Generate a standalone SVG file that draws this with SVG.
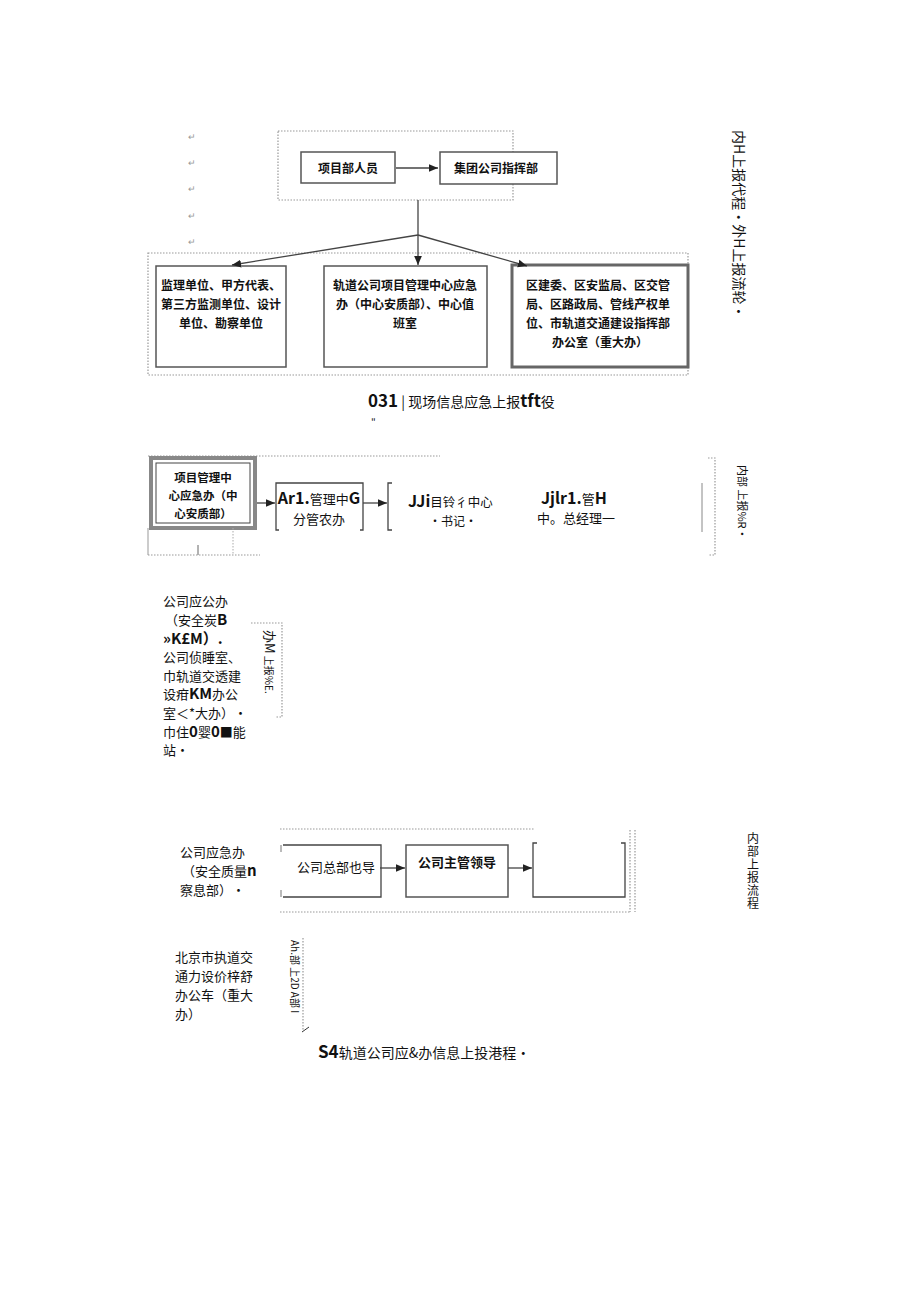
<svg xmlns="http://www.w3.org/2000/svg" width="920" height="1301" viewBox="0 0 920 1301">
<style>
text{font-family:"Noto Sans CJK SC","Liberation Sans",sans-serif;fill:#111}
.s{font-size:12px}
.m{font-size:11.5px}
.b{font-weight:bold}
.box{fill:#fff;stroke:#555;stroke-width:1.5}
.dot{fill:none;stroke:#999;stroke-width:1.2;stroke-dasharray:1.5 1.5}
.ln{fill:none;stroke:#444;stroke-width:1.3}
.ret{font-size:9px;fill:#999}
</style>
<defs><marker id="a" markerWidth="8" markerHeight="8" refX="7" refY="4" orient="auto"><path d="M0,1 L7,4 L0,7z" fill="#222"/></marker></defs>
<rect width="920" height="1301" fill="#fff"/>
<g id="marks"><text class="ret" x="188" y="140">↵</text><text class="ret" x="188" y="166">↵</text><text class="ret" x="188" y="192">↵</text><text class="ret" x="188" y="219">↵</text><text class="ret" x="188" y="245">↵</text></g>
<g id="top-frame"><rect class="dot" x="278" y="131" width="235" height="69"/><rect class="dot" x="148" y="253" width="540" height="122"/></g>
<g id="n1"><rect class="box" x="301" y="152" width="94" height="31"/><text class="s b" x="348" y="173" text-anchor="middle">项目部人员</text></g>
<g id="n2"><rect class="box" x="440" y="152" width="117" height="32"/><text class="s b" x="496" y="173" text-anchor="middle">集团公司指挥部</text></g>
<g id="n3"><rect class="box" x="156" y="266" width="130" height="101"/><text class="s b" x="221" y="290" text-anchor="middle">监理单位、甲方代表、</text><text class="s b" x="221" y="309" text-anchor="middle">第三方监测单位、设计</text><text class="s b" x="221" y="328" text-anchor="middle">单位、勘察单位</text></g>
<g id="n4"><rect class="box" x="324" y="266" width="163" height="101"/><text class="s b" x="405" y="290" text-anchor="middle">轨道公司项目管理中心应急</text><text class="s b" x="405" y="309" text-anchor="middle">办（中心安质部）、中心值</text><text class="s b" x="405" y="328" text-anchor="middle">班室</text></g>
<g id="n5"><rect x="512" y="265" width="176" height="102" fill="#fff" stroke="#666" stroke-width="3"/><text class="s b" x="526" y="290">区建委、区安监局、区交管</text><text class="s b" x="526" y="309">局、区路政局、管线产权单</text><text class="s b" x="526" y="328">位、市轨道交通建设指挥部</text><text class="s b" x="600" y="347" text-anchor="middle">办公室（重大办）</text></g>
<g id="connectors">
<line class="ln" x1="396" y1="168" x2="438" y2="168" marker-end="url(#a)"/>
<line class="ln" x1="418" y1="200" x2="418" y2="265" marker-end="url(#a)"/>
<line class="ln" x1="418" y1="235" x2="232" y2="265" marker-end="url(#a)"/>
<line class="ln" x1="418" y1="235" x2="527" y2="266" marker-end="url(#a)"/>
<line class="ln" x1="255" y1="503" x2="275" y2="503" marker-end="url(#a)"/>
<line class="ln" x1="363" y1="503" x2="387" y2="503" marker-end="url(#a)"/>
<line class="ln" x1="380" y1="868" x2="405" y2="868" marker-end="url(#a)"/>
<line class="ln" x1="508" y1="868" x2="532" y2="868" marker-end="url(#a)"/>
</g>
<text x="368" y="407" font-size="14"><tspan class="b" font-size="17">031</tspan> | 现场信息应急上报<tspan class="b" font-size="17">tft</tspan>役</text>
<text x="371" y="426" font-size="10">"</text>
<text transform="translate(734,130) rotate(90)" font-size="14">内H上报代程•外H上报流轮•</text>
<g id="sec2">
<line class="dot" x1="148" y1="456" x2="440" y2="456"/>
<g id="n6"><rect x="151" y="458" width="104" height="70" fill="#fff" stroke="#888" stroke-width="4"/><rect x="156" y="463" width="94" height="60" fill="none" stroke="#444" stroke-width="1"/><text class="m b" x="203" y="482" text-anchor="middle">项目管理中</text><text class="m b" x="203" y="500" text-anchor="middle">心应急办（中</text><text class="m b" x="203" y="518" text-anchor="middle">心安质部）</text></g>
<g id="n7"><path class="ln" d="M279,530 H276 V483 H363 V530 H360" stroke="#777"/><text x="319" y="504" font-size="13" text-anchor="middle"><tspan class="b" font-size="16">Ar1.</tspan>管理中<tspan class="b" font-size="16">G</tspan></text><text x="319" y="524" font-size="13" text-anchor="middle">分管农办</text></g>
<g id="n8"><path class="ln" d="M392,483 H388 V530 H392" stroke="#777"/><text x="408" y="507" font-size="12.5"><tspan class="b" font-size="16">JJi</tspan>目铃彳中心</text><text x="429" y="526" font-size="12">•书记•</text></g>
<g id="n9"><text x="541" y="504" font-size="13"><tspan class="b" font-size="16">Jjlr1.</tspan>管<tspan class="b" font-size="16">H</tspan></text><text x="537" y="523" font-size="13">中。总经理一</text></g>
<path class="dot" d="M708,458 H715 V555 H708"/>
<line x1="702" y1="483" x2="702" y2="532" stroke="#888" stroke-width="1"/>
<text transform="translate(738,465) rotate(90)" font-size="11">内部 上报%R•</text>
<line x1="148" y1="528" x2="148" y2="555" stroke="#999"/><line x1="198" y1="545" x2="198" y2="555" stroke="#666"/><line x1="233" y1="528" x2="233" y2="555" stroke="#aaa" stroke-dasharray="1.5 1.5"/>
<line class="dot" x1="148" y1="555" x2="260" y2="555"/>
</g>
<g id="sec3" font-size="13">
<text x="163" y="606">公司应公办</text><text x="165" y="625">（安全炭<tspan class="b" font-size="15">B</tspan></text><text x="163" y="644" class="b" font-size="15">»K£M）.</text><text x="163" y="662">公司侦睡室、</text><text x="163" y="681">巾轨道交透建</text><text x="163" y="699">设疳<tspan class="b" font-size="15">KM</tspan>办公</text><text x="163" y="718">室＜*大办）•</text><text x="163" y="737">巾住<tspan class="b" font-size="15">0</tspan>婴<tspan class="b" font-size="15">0</tspan>■能</text><text x="163" y="755">站•</text>
<path class="dot" d="M251,623 H282 V717 H275"/>
<text transform="translate(265,630) rotate(90)" font-size="10"><tspan font-size="13">办M</tspan> 上报%E.</text>
</g>
<g id="sec4">
<text x="180" y="857" font-size="13">公司应急办</text><text x="182" y="876" font-size="13">（安全质量<tspan class="b" font-size="15">n</tspan></text><text x="180" y="895" font-size="13">察息部）•</text>
<line class="dot" x1="280" y1="829" x2="535" y2="829"/><line class="dot" x1="280" y1="912" x2="630" y2="912"/>
<g id="n10"><path class="ln" d="M283,845 H381 V897 H283" stroke="#777"/><line x1="281" y1="845" x2="281" y2="852" stroke="#777"/><line x1="281" y1="890" x2="281" y2="897" stroke="#777"/><text x="297" y="872" font-size="13">公司总部也导</text></g>
<g id="n11"><rect class="box" x="406" y="845" width="102" height="52"/><text x="457" y="867" font-size="13" class="b" text-anchor="middle">公司主管领导</text></g>
<g id="n12"><path class="ln" d="M537,843 H533 V897 H625 V843 H621" stroke="#777"/></g>
<line class="dot" x1="630" y1="830" x2="630" y2="912"/><line class="dot" x1="635" y1="830" x2="635" y2="912"/>
<text x="753" y="832" font-size="12" fill="#555" writing-mode="vertical-rl" letter-spacing="1">内部上报流程</text>
<text x="175" y="962" font-size="13">北京市执道交</text><text x="175" y="981" font-size="13">通力设价梓舒</text><text x="175" y="1000" font-size="13">办公车（重大</text><text x="175" y="1019" font-size="13">办）</text>
<text transform="translate(291,940) rotate(90)" font-size="10">Ah.部 上2D A部 I</text>
<line class="dot" x1="303" y1="938" x2="303" y2="1030"/><line x1="302" y1="1032" x2="309" y2="1027" stroke="#333"/>
<text x="318" y="1058" font-size="14"><tspan class="b" font-size="17">S4</tspan>轨道公司应&amp;办信息上投港程•</text>
</g>
</svg>
